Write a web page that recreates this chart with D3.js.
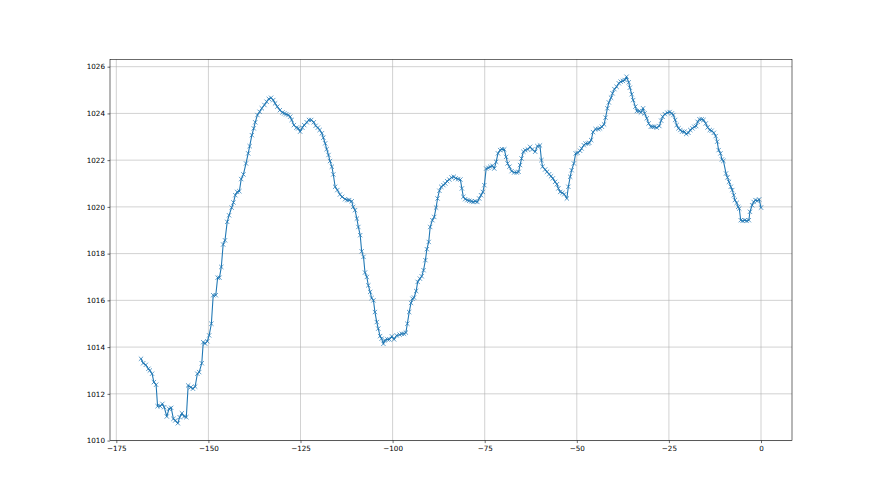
<!DOCTYPE html>
<html><head><meta charset="utf-8">
<script src="https://cdn.jsdelivr.net/npm/d3@7"></script>
<style>body{margin:0;background:#fff}svg{display:block}text{font-family:"DejaVu Sans",sans-serif;fill:#000}</style>
</head><body><svg id="c" width="880" height="495"></svg>
<script>
const hours = [-168.3,-167.7,-167.0,-166.3,-165.9,-165.3,-164.8,-164.2,-163.8,-163.1,-162.5,-162.0,-161.3,-160.7,-160.1,-159.5,-159.0,-158.3,-157.8,-157.2,-156.6,-156.0,-155.5,-154.8,-154.2,-153.6,-153.0,-152.5,-151.8,-151.4,
-150.9,-150.3,-149.8,-149.2,-148.7,-148.0,-147.5,-147.0,-146.5,-146.0,-145.5,-144.9,-144.4,-143.7,-143.2,-142.7,-142.2,-141.6,-141.1,-140.5,-139.8,-139.2,-138.8,-138.2,-137.7,-137.3,-136.7,-136.1,-135.5,-134.8,-134.2,-133.6,-133.0,
-132.4,-131.9,-131.3,-130.6,-129.9,-129.4,-128.9,-128.3,-127.8,-127.4,-126.8,-126.1,-125.6,-125.1,-124.5,-124.0,-123.3,-122.7,-122.1,-121.4,-120.9,-120.3,-119.8,-119.2,-118.8,-118.3,-117.9,-117.4,-117.0,-116.5,-116.1,
-115.6,-115.0,-114.3,-113.7,-112.9,-112.3,-111.8,-111.1,-110.7,-110.2,-109.7,-109.3,-108.8,-108.4,-107.9,-107.5,-107.0,-106.6,-106.1,-105.7,-105.2,-104.8,-104.3,-103.9,-103.4,-103.0,-102.5,-102.1,-101.4,-100.9,-100.2,-99.6,-98.9,
-98.1,-97.5,-96.9,-96.4,-96.0,-95.5,-95.0,-94.6,-94.2,-93.6,-93.2,-92.6,-92.1,-91.6,-91.1,-90.7,-90.2,-89.8,-89.2,-88.7,-88.2,-87.8,-87.3,-86.8,-86.2,-85.7,-85.2,-84.6,-84.0,-83.4,-82.9,-82.2,-81.6,
-81.2,-80.8,-80.3,-79.7,-79.2,-78.6,-78.1,-77.6,-77.0,-76.5,-76.0,-75.5,-75.1,-74.6,-74.0,-73.5,-72.9,-72.4,-71.9,-71.4,-70.8,-70.3,-69.7,-69.2,-68.8,-68.3,-67.7,-67.0,-66.3,-65.8,-65.4,-65.0,-64.5,-64.0,
-63.3,-62.7,-62.1,-61.3,-60.7,-60.0,-59.6,-59.3,-58.6,-58.1,-57.5,-57.0,-56.5,-55.9,-55.4,-55.0,-54.5,-53.9,-53.4,-52.7,-52.3,-51.8,-51.4,-50.8,-50.3,-49.8,-49.1,-48.7,-48.1,-47.6,-47.0,-46.6,-46.1,
-45.6,-44.9,-44.2,-43.7,-43.2,-42.6,-42.2,-41.7,-41.3,-40.7,-40.3,-39.8,-39.2,-38.6,-38.1,-37.5,-37.0,-36.5,-35.9,-35.6,-35.1,-34.7,-34.1,-33.7,-33.1,-32.6,-32.0,-31.6,-31.0,-30.5,-29.9,-29.4,-28.9,-28.3,
-27.6,-27.1,-26.7,-26.1,-25.4,-24.8,-24.2,-23.8,-23.3,-22.9,-22.4,-21.9,-21.4,-20.8,-20.3,-19.7,-19.2,-18.6,-18.1,-17.6,-17.2,-16.7,-16.1,-15.6,-15.0,-14.5,-13.9,-13.4,-12.8,-12.3,-11.9,-11.5,-11.0,
-10.6,-10.2,-9.5,-9.1,-8.7,-8.2,-7.8,-7.4,-7.1,-6.6,-6.2,-5.9,-5.5,-5.0,-4.4,-3.9,-3.3,-3.0,-2.4,-2.0,-1.5,-1.0,-0.5,0.0];
const pressure = [1013.50,1013.31,1013.24,1013.07,1013.00,1012.86,1012.50,1012.39,1011.47,1011.47,1011.57,1011.43,1011.03,1011.36,1011.40,1010.93,1010.86,1010.74,1011.00,1011.17,1011.03,1011.00,1012.36,1012.28,1012.22,1012.31,1012.86,1012.93,1013.31,1014.21,
1014.15,1014.25,1014.50,1015.00,1016.22,1016.22,1016.97,1016.97,1017.43,1018.39,1018.57,1019.36,1019.64,1019.97,1020.19,1020.50,1020.64,1020.67,1021.19,1021.39,1021.86,1022.29,1022.60,1023.07,1023.36,1023.62,1023.93,1024.07,1024.22,1024.36,1024.50,1024.62,1024.67,
1024.57,1024.43,1024.29,1024.14,1024.04,1024.00,1023.96,1023.93,1023.86,1023.72,1023.50,1023.39,1023.36,1023.22,1023.39,1023.50,1023.62,1023.72,1023.72,1023.62,1023.47,1023.39,1023.29,1023.15,1022.96,1022.72,1022.47,1022.22,1021.96,1021.72,1021.39,
1020.86,1020.72,1020.53,1020.43,1020.33,1020.29,1020.29,1020.24,1020.00,1019.86,1019.50,1019.14,1018.79,1018.10,1017.86,1017.19,1017.00,1016.64,1016.36,1016.10,1016.00,1015.50,1015.07,1014.79,1014.47,1014.36,1014.14,1014.29,1014.33,1014.33,1014.46,1014.33,1014.50,
1014.53,1014.57,1014.57,1014.62,1015.00,1015.50,1015.89,1016.07,1016.12,1016.40,1016.79,1016.93,1017.03,1017.29,1017.72,1018.19,1018.50,1019.14,1019.43,1019.57,1019.97,1020.36,1020.69,1020.86,1020.93,1021.00,1021.10,1021.17,1021.26,1021.29,1021.22,1021.19,1021.17,
1020.79,1020.43,1020.33,1020.29,1020.26,1020.24,1020.21,1020.24,1020.21,1020.36,1020.50,1020.64,1020.93,1021.64,1021.67,1021.72,1021.76,1021.64,1021.93,1022.29,1022.43,1022.47,1022.46,1022.14,1021.86,1021.72,1021.53,1021.47,1021.47,1021.50,1021.79,1022.07,1022.36,1022.43,
1022.46,1022.57,1022.46,1022.36,1022.60,1022.63,1022.00,1021.72,1021.60,1021.50,1021.40,1021.31,1021.22,1021.07,1020.97,1020.79,1020.64,1020.60,1020.54,1020.36,1020.86,1021.29,1021.57,1021.86,1022.29,1022.31,1022.40,1022.50,1022.64,1022.71,1022.71,1022.74,1022.86,
1023.20,1023.33,1023.33,1023.36,1023.43,1023.53,1023.82,1024.22,1024.47,1024.67,1024.86,1025.04,1025.14,1025.29,1025.36,1025.39,1025.43,1025.57,1025.33,1025.10,1024.82,1024.57,1024.29,1024.10,1024.10,1024.04,1024.22,1024.00,1023.79,1023.57,1023.43,1023.43,1023.43,1023.39,
1023.46,1023.69,1023.86,1023.97,1024.03,1024.06,1024.00,1023.93,1023.72,1023.50,1023.36,1023.29,1023.22,1023.22,1023.12,1023.17,1023.29,1023.36,1023.43,1023.46,1023.64,1023.75,1023.75,1023.72,1023.57,1023.40,1023.29,1023.26,1023.17,1023.03,1022.79,1022.43,1022.29,
1022.03,1021.97,1021.43,1021.26,1021.07,1020.86,1020.72,1020.50,1020.29,1020.17,1020.00,1019.93,1019.43,1019.40,1019.43,1019.40,1019.43,1019.79,1020.07,1020.21,1020.29,1020.26,1020.32,1019.97];
const xTicks = [-175,-150,-125,-100,-75,-50,-25,0];
const yTicks = [1010,1012,1014,1016,1018,1020,1022,1024,1026];

const data = hours.map((h,i)=>({h, p: pressure[i]}));
const L=110, R=792, T=59.4, B=440.6;
const k = 0.72; // point-to-pixel scale
function padded(ext){const r=ext[1]-ext[0];return [ext[0]-0.05*r, ext[1]+0.05*r];}
const x = d3.scaleLinear().domain(padded(d3.extent(hours))).range([L,R]);
const y = d3.scaleLinear().domain(padded(d3.extent(pressure))).range([B,T]);
const svg = d3.select("#c");
const fmt = d => (d<0 ? "\u2212"+Math.abs(d) : String(d));

const g = svg.append("g");
g.selectAll(".gx").data(xTicks).join("line").attr("x1",d=>x(d)).attr("x2",d=>x(d)).attr("y1",T).attr("y2",B)
  .attr("stroke","#b0b0b0").attr("stroke-width",0.8*k);
g.selectAll(".gy").data(yTicks).join("line").attr("y1",d=>y(d)).attr("y2",d=>y(d)).attr("x1",L).attr("x2",R)
  .attr("stroke","#b0b0b0").attr("stroke-width",0.8*k);

svg.append("path").datum(data).attr("fill","none").attr("stroke","#1f77b4").attr("stroke-width",1.5*k)
  .attr("stroke-linejoin","round").attr("stroke-linecap","square")
  .attr("d", d3.line().x(d=>x(d.h)).y(d=>y(d.p)));
const s=3*k;
svg.append("g").selectAll("path").data(data).join("path")
  .attr("d", d=>{const cx=x(d.h), cy=y(d.p);return `M${cx-s},${cy-s}L${cx+s},${cy+s}M${cx-s},${cy+s}L${cx+s},${cy-s}`;})
  .attr("stroke","#1f77b4").attr("stroke-width",1*k).attr("fill","none");

const xAxis = d3.axisBottom(x).tickValues(xTicks).tickFormat(fmt).tickSize(3.5*k).tickPadding(3.5*k);
const yAxis = d3.axisLeft(y).tickValues(yTicks).tickFormat(d=>String(d)).tickSize(3.5*k).tickPadding(3.5*k);
const ax = svg.append("g").attr("transform",`translate(0,${B})`).call(xAxis);
const ay = svg.append("g").attr("transform",`translate(${L},0)`).call(yAxis);
[ax,ay].forEach(a=>{a.select(".domain").remove();a.selectAll("line").attr("stroke","#000").attr("stroke-width",0.8*k);
  a.selectAll("text").attr("font-family","DejaVu Sans").attr("font-size",(10*k)+"px").attr("fill","#000");});
svg.append("rect").attr("x",L).attr("y",T).attr("width",R-L).attr("height",B-T).attr("fill","none").attr("stroke","#000").attr("stroke-width",0.8*k);
</script></body></html>
